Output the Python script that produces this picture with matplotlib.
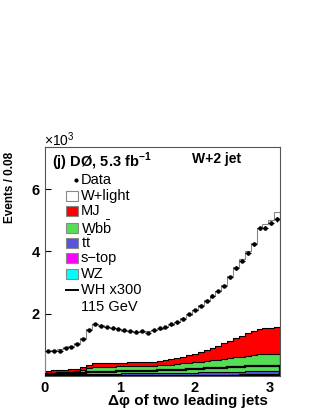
import numpy as np
import matplotlib
matplotlib.use("Agg")
import matplotlib.pyplot as plt
from matplotlib.patches import Rectangle

plt.rcParams['font.family'] = ['Liberation Sans', 'DejaVu Sans']
plt.rcParams['mathtext.fontset'] = 'custom'
plt.rcParams['mathtext.rm'] = 'Liberation Sans'
plt.rcParams['mathtext.bf'] = 'Liberation Sans:bold'

# 40 bins over 0..pi, values in units of 10^3 events
nbins = 40
data = [0.80, 0.81, 0.82, 0.90, 0.95, 1.02, 1.18, 1.47, 1.67, 1.62,
        1.58, 1.56, 1.52, 1.47, 1.45, 1.43, 1.44, 1.38, 1.47, 1.53,
        1.58, 1.66, 1.73, 1.84, 1.98, 2.12, 2.26, 2.42, 2.57, 2.72,
        2.90, 3.17, 3.47, 3.71, 3.95, 4.25, 4.75, 4.75, 4.91, 5.03]
wz = [0.02, 0.02, 0.02, 0.02, 0.02, 0.02, 0.03, 0.03, 0.03, 0.03,
      0.03, 0.03, 0.03, 0.03, 0.03, 0.03, 0.03, 0.03, 0.03, 0.03,
      0.03, 0.03, 0.03, 0.03, 0.04, 0.04, 0.04, 0.04, 0.04, 0.04,
      0.04, 0.04, 0.04, 0.05, 0.05, 0.05, 0.05, 0.05, 0.05, 0.05]
stop = [0.01] * 40
ttbar = [0.03, 0.03, 0.03, 0.03, 0.03, 0.03, 0.04, 0.04, 0.04, 0.04,
         0.04, 0.04, 0.04, 0.05, 0.05, 0.05, 0.05, 0.05, 0.05, 0.05,
         0.05, 0.06, 0.06, 0.06, 0.06, 0.06, 0.07, 0.07, 0.07, 0.07,
         0.08, 0.08, 0.08, 0.08, 0.09, 0.09, 0.09, 0.09, 0.10, 0.10]
wbb = [0.05, 0.05, 0.06, 0.07, 0.08, 0.10, 0.12, 0.17, 0.20, 0.21,
       0.22, 0.22, 0.23, 0.22, 0.23, 0.23, 0.24, 0.24, 0.25, 0.26,
       0.27, 0.27, 0.29, 0.31, 0.32, 0.34, 0.35, 0.37, 0.39, 0.41,
       0.42, 0.45, 0.48, 0.49, 0.51, 0.53, 0.55, 0.56, 0.56, 0.56]
mj = [0.07, 0.08, 0.08, 0.08, 0.08, 0.08, 0.08, 0.11, 0.14, 0.14,
      0.13, 0.13, 0.12, 0.12, 0.12, 0.12, 0.12, 0.13, 0.13, 0.14,
      0.15, 0.17, 0.19, 0.21, 0.24, 0.27, 0.31, 0.35, 0.40, 0.45,
      0.50, 0.55, 0.60, 0.67, 0.72, 0.77, 0.80, 0.82, 0.84, 0.86]
wlight = [0.64, 0.64, 0.66, 0.71, 0.76, 0.82, 0.94, 1.16, 1.24, 1.21,
          1.15, 1.12, 1.07, 1.03, 1.00, 0.99, 0.97, 0.98, 1.00, 1.03,
          1.07, 1.11, 1.16, 1.23, 1.30, 1.40, 1.50, 1.61, 1.67, 1.76,
          1.89, 2.07, 2.29, 2.46, 2.62, 2.82, 3.25, 3.34, 3.44, 3.69]
wh300 = [0.08, 0.08, 0.09, 0.09, 0.10, 0.10, 0.11, 0.12, 0.13, 0.13,
         0.14, 0.14, 0.15, 0.15, 0.16, 0.16, 0.17, 0.17, 0.18, 0.19,
         0.19, 0.20, 0.21, 0.21, 0.22, 0.23, 0.24, 0.25, 0.26, 0.27,
         0.27, 0.28, 0.29, 0.30, 0.31, 0.31, 0.32, 0.33, 0.33, 0.34]

components = [
    (wz, '#00ffff', 'WZ'),
    (stop, '#ff00ff', 's\u2212top'),
    (ttbar, '#5555dd', r't$\bar{\rm t}$'),
    (wbb, '#55dd55', r'Wb$\bar{\rm b}$'),
    (mj, '#ff0000', 'MJ'),
    (wlight, '#ffffff', 'W+light'),
]

edges = np.linspace(0, np.pi, nbins + 1)
centers = 0.5 * (edges[1:] + edges[:-1])

fig = plt.figure(figsize=(3.19, 4.12), dpi=100)
ax = fig.add_axes([0.141, 0.087, 0.737, 0.556])

base = np.zeros(nbins)
for vals, col, lab in components:
    top = base + np.array(vals)
    ec = '#888888' if lab == 'W+light' else 'black'
    ax.stairs(top, edges, baseline=base, fill=True, color=col, zorder=2)
    ax.stairs(top, edges, color=ec, lw=0.8, zorder=3)
    base = top

ax.stairs(wh300, edges, color='black', lw=1.6, zorder=4)

d = np.array(data)
ax.errorbar(centers, d, yerr=np.sqrt(d * 1000) / 1000, xerr=0.5 * (edges[1] - edges[0]),
            fmt='o', ms=2.2, color='black', elinewidth=0.8, capsize=0, zorder=5)

ax.set_xlim(0, np.pi)
ax.set_ylim(0, 7.35)
ax.set_xticks([0, 1, 2, 3])
ax.set_yticks([2, 4, 6])
ax.tick_params(direction='in', length=4, width=0.8, labelsize=10.5)
for lbl in ax.get_xticklabels() + ax.get_yticklabels():
    lbl.set_fontweight('bold')
for sp in ax.spines.values():
    sp.set_color('#555555')
    sp.set_linewidth(0.8)

fig.text(0.588, 0.027, '\u0394\u03c6 of two leading jets', fontsize=11,
         fontweight='bold', ha='center', va='center')
fig.text(0.031, 0.631, 'Events / 0.08', fontsize=8.5, fontweight='bold',
         rotation=90, ha='center', va='top')

fig.text(0.138, 0.646, r'$\times$10$^{3}$', fontsize=10, ha='left', va='baseline')

ax.text(0.03, 0.937, '(j) D\u00d8, 5.3 fb' + r'$^{\mathbf{-1}}$',
        transform=ax.transAxes, fontsize=10.5, fontweight='bold', ha='left', va='center')
ax.text(0.625, 0.948, 'W+2 jet', transform=ax.transAxes, fontsize=10,
        fontweight='bold', ha='left', va='center')

# legend
fs = 10.5
tx = 0.153
ax.plot([0.132], [0.856], 'o', ms=2, color='black', transform=ax.transAxes)
ax.text(tx, 0.856, 'Data', transform=ax.transAxes, fontsize=fs, va='center')
rows = [0.788, 0.721, 0.646, 0.581, 0.515, 0.445]
for (vals, col, lab), yy in zip(components[::-1], rows):
    ax.add_patch(Rectangle((0.089, yy - 0.022), 0.051, 0.044, transform=ax.transAxes,
                           facecolor=col, edgecolor='#888888', lw=0.8, zorder=6))
    ax.text(tx, yy, lab, transform=ax.transAxes, fontsize=fs, va='center')
ax.plot([0.089, 0.14], [0.376, 0.376], color='black', lw=1.4, transform=ax.transAxes)
ax.text(tx, 0.376, 'WH x300', transform=ax.transAxes, fontsize=fs, va='center')
ax.text(tx, 0.301, '115 GeV', transform=ax.transAxes, fontsize=fs, va='center')

fig.savefig('out.png', dpi=100)
